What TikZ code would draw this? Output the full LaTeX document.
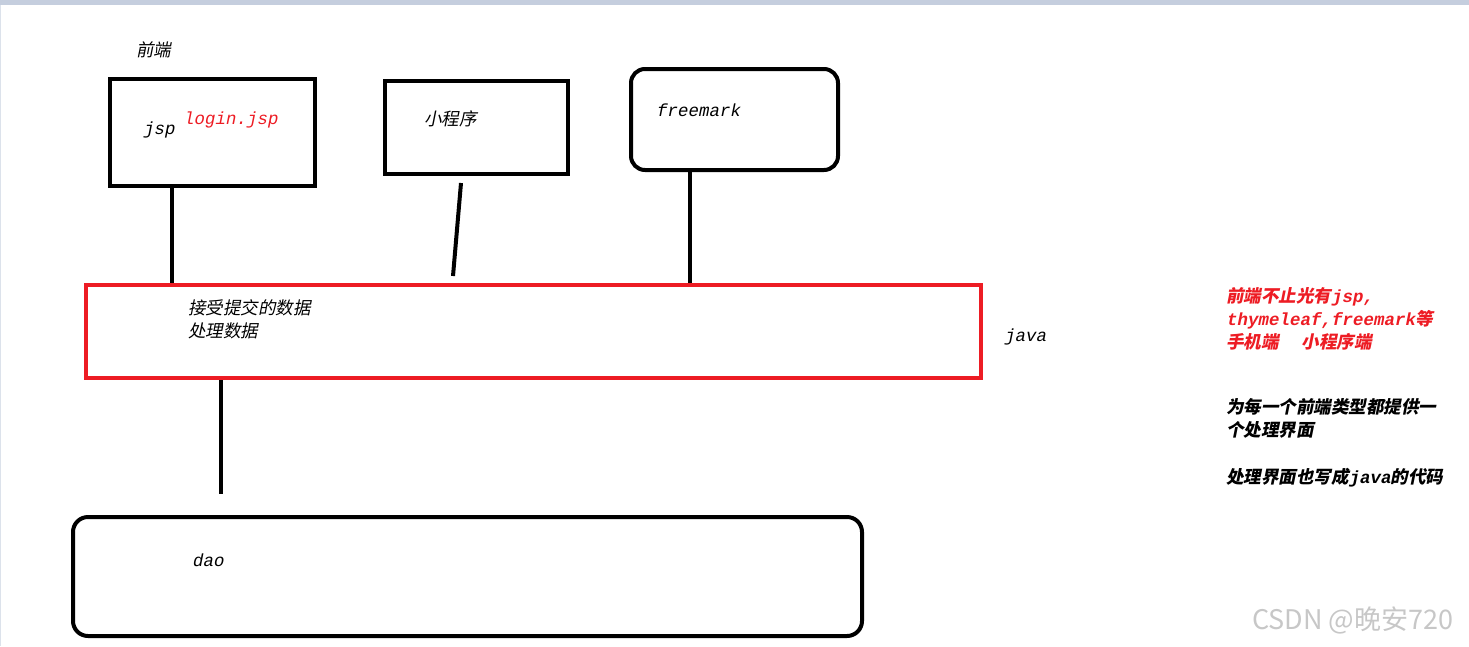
\documentclass[tikz,border=0pt]{standalone}
\usepackage{fontspec}
\usepackage{tikz}
\usetikzlibrary{positioning}
\newfontfamily\cjkit[FakeSlant=0.2]{Noto Sans CJK SC}
\newfontfamily\latit[FakeSlant=0.2]{Liberation Mono}
\newfontfamily\wmfont{Noto Sans CJK SC}
\newcommand{\zhtxt}[1]{{\cjkit #1}}
\newcommand{\entxt}[1]{{\latit #1}}
\definecolor{penred}{HTML}{ED1C24}
\definecolor{topbar}{HTML}{C5CEDE}

\begin{document}
\begin{tikzpicture}[x=1pt, y=-1pt,
  every node/.style={font=\fontsize{17.5}{23}\selectfont},
  box/.style={draw, line width=4pt, inner sep=0pt},
  lbl/.style={anchor=west, inner sep=0pt, align=left},
  note/.style={lbl, font=\fontsize{17.5}{23}\selectfont\bfseries},
  link/.style={line width=4pt}]
  \useasboundingbox (0,0) rectangle (1469,646);
  \fill[topbar] (0,0) rectangle (1469,5);
  \draw[topbar!60, line width=1pt] (0.5,5) -- (0.5,646);

  % front ends
  \node[box, minimum width=205, minimum height=107] (jsp) at (212.5,132.5) {};
  \node[box, minimum width=183, minimum height=93] (mp) at (476.5,127.5) {};
  \node[box, rounded corners=14pt, minimum width=207, minimum height=101] (fm) at (734.5,119.5) {};
  % java layer and dao
  \node[box, draw=penred, minimum width=895, minimum height=93] (proc) at (533.5,331.5) {};
  \node[box, rounded corners=15pt, minimum width=789, minimum height=119] (dao) at (467.5,576.5) {};

  \coordinate (jx) at (172,0);
  \coordinate (fx) at (690,0);
  \coordinate (dx) at (221,0);
  \coordinate (mptop) at (461,183);
  \coordinate (mpbot) at (453,276);
  \coordinate (daoend) at (221,494);
  \draw[link] (jsp.south -| jx) -- (proc.north -| jx);
  \draw[link] (mptop) -- (mpbot);
  \draw[link] (fm.south -| fx) -- (proc.north -| fx);
  \draw[link] (proc.south -| dx) -- (daoend);

  \node[lbl] (front) at (136,50) {\zhtxt{前端}};
  \node[lbl] (jsplbl) at (143,130) {\entxt{jsp}};
  \node[lbl, text=penred] (login) at (183,120) {\entxt{login.jsp}};
  \node[lbl] (mplbl) at (424,119) {\zhtxt{小程序}};
  \node[lbl] (fmlbl) at (656,110) {\entxt{freemark}};
  \node[lbl] (proclbl) at (188,319.5) {\zhtxt{接受提交的数据}\\\zhtxt{处理数据}};
  \node[lbl] (javalbl) at (1004,337) {\entxt{java}};
  \node[lbl] (daolbl) at (192,560) {\entxt{dao}};

  % notes on the right
  \node[note, text=penred] (note1) at (1226,319) {\zhtxt{前端不止光有}\entxt{jsp,}\\\entxt{thymeleaf,freemark}\zhtxt{等}\\\zhtxt{手机端}\hspace{23pt}\zhtxt{小程序端}};
  \node[note] (note2) at (1226,418.5) {\zhtxt{为每一个前端类型都提供一}\\\zhtxt{个处理界面}};
  \node[note] (note3) at (1226,478) {\zhtxt{处理界面也写成}\entxt{java}\zhtxt{的代码}};
  \node[lbl, text=black!22, font=\wmfont\fontsize{27}{30}\selectfont] (wm) at (1252,620) {CSDN @晚安720};
\end{tikzpicture}
\end{document}
